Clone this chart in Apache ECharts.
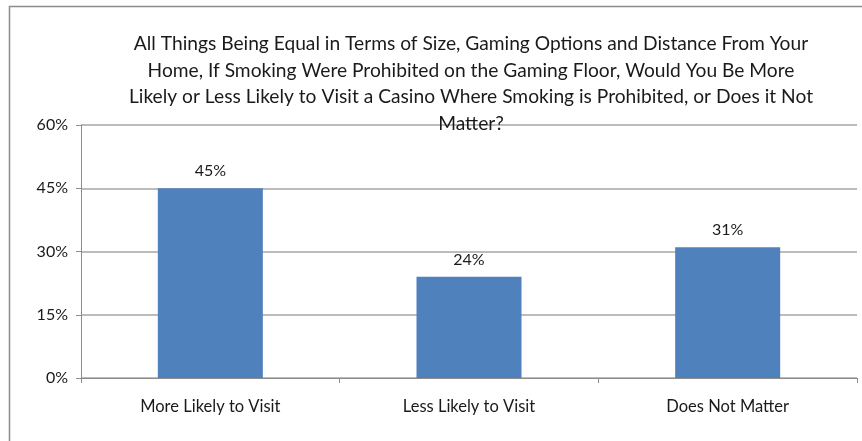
<!DOCTYPE html>
<html>
<head>
<meta charset="utf-8">
<script src="https://cdn.jsdelivr.net/npm/echarts@6/dist/echarts.min.js"></script>
<style>
  html, body { margin: 0; padding: 0; background: #fff; }
  #chart { width: 862px; height: 441px; }
</style>
</head>
<body>
<div id="chart"></div>
<script>
// Survey responses about visiting a smoke-free casino
const categories = ['More Likely to Visit', 'Less Likely to Visit', 'Does Not Matter'];
const values = [45, 24, 31];
const yTicks = [0, 15, 30, 45, 60];
const titleLines = [
  'All Things Being Equal in Terms of Size, Gaming Options and Distance From Your',
  'Home, If Smoking Were Prohibited on the Gaming Floor, Would You Be More',
  'Likely or Less Likely to Visit a Casino Where Smoking is Prohibited, or Does it Not',
  'Matter?'
];

const FONT = 'Lato, "Open Sans", sans-serif';
const chart = echarts.init(document.getElementById('chart'), null, { renderer: 'canvas' });

chart.setOption({
  animation: false,
  backgroundColor: '#ffffff',
  graphic: [
    {
      type: 'rect',
      shape: { x: 9.5, y: 6.5, width: 880, height: 460 },
      style: { fill: 'none', stroke: '#8c8c8c', lineWidth: 1.5 },
      silent: true,
      z: 0
    }
  ],
  title: {
    text: titleLines.join('\n'),
    left: 466,
    top: 26,
    textAlign: 'center',
    textStyle: {
      fontFamily: FONT,
      fontWeight: 'normal',
      fontSize: 19.2,
      lineHeight: 26.5,
      color: '#1a1a1a'
    },
    z: 10
  },
  grid: { left: 81, right: 5, top: 125, bottom: 63, containLabel: false },
  xAxis: {
    type: 'category',
    data: categories,
    axisLine: { show: true, lineStyle: { color: '#8c8c8c', width: 1 } },
    axisTick: { show: true, alignWithLabel: false, length: 5, lineStyle: { color: '#8c8c8c' } },
    axisLabel: { fontFamily: FONT, fontSize: 16.5, color: '#1a1a1a', margin: 20 }
  },
  yAxis: {
    type: 'value',
    min: 0,
    max: 60,
    interval: 15,
    axisLine: { show: true, lineStyle: { color: '#8c8c8c', width: 1 } },
    axisTick: { show: true, length: 5, lineStyle: { color: '#8c8c8c' } },
    splitLine: { show: true, lineStyle: { color: '#a6a6a6', width: 1.5 } },
    axisLabel: {
      fontFamily: FONT, fontSize: 16, color: '#1a1a1a', margin: 13,
      formatter: v => (yTicks.includes(v) ? v + '%' : '')
    }
  },
  series: [
    {
      type: 'bar',
      data: values,
      barWidth: '40.6%',
      itemStyle: { color: '#4f81bd' },
      label: {
        show: true,
        position: 'top',
        distance: 9,
        formatter: p => p.value + '%',
        fontFamily: FONT,
        fontSize: 16,
        color: '#1a1a1a'
      }
    }
  ]
});
</script>
</body>
</html>
